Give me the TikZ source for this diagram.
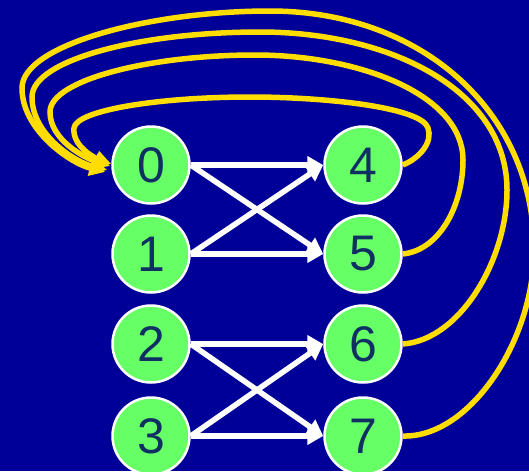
\documentclass[tikz,border=0pt]{standalone}
\usepackage{fontspec}
\setmainfont{Liberation Sans}
\usetikzlibrary{arrows.meta,calc}
\definecolor{bg}{RGB}{0,0,153}
\definecolor{nodegreen}{RGB}{102,255,102}
\definecolor{curveyellow}{RGB}{255,221,0}
\definecolor{digit}{RGB}{16,48,100}
\begin{document}
\begin{tikzpicture}[x=1pt,y=-1pt,
  vert/.style={circle,draw=white,line width=2.5pt,fill=nodegreen,minimum size=77pt,inner sep=0pt,
    text=digit,font=\fontsize{50}{50}\selectfont},
  wedge/.style={draw=white,line width=5.5pt,-{Triangle[length=16pt,width=17pt]}},
  back/.style={draw=curveyellow,line width=5.5pt,-{Triangle[length=16pt,width=15pt]}}]
\fill[bg] (0,0) rectangle (529,471);
\useasboundingbox (0,0) rectangle (529,471);
\node[vert] (n0) at (151,165) {0};
\node[vert] (n1) at (151,254) {1};
\node[vert] (n2) at (151,344) {2};
\node[vert] (n3) at (151,436) {3};
\node[vert] (n4) at (363,165) {4};
\node[vert] (n5) at (363,254) {5};
\node[vert] (n6) at (363,344) {6};
\node[vert] (n7) at (363,436) {7};
\draw[wedge] (n0.east) -- (n4.west);
\draw[wedge] (n0.east) -- (n5.west);
\draw[wedge] (n1.east) -- (n4.west);
\draw[wedge] (n1.east) -- (n5.west);
\draw[wedge] (n2.east) -- (n6.west);
\draw[wedge] (n2.east) -- (n7.west);
\draw[wedge] (n3.east) -- (n6.west);
\draw[wedge] (n3.east) -- (n7.west);
% 4 -> 0
\draw[back] (n4.east) .. controls (420,158) and (433,142) .. (428,128)
  .. controls (422,108) and (330,97) .. (250,97)
  .. controls (160,97) and (76,110) .. (74,128)
  .. controls (72,146) and (95,158) .. ($(n0.west)+(0,-1)$);
% 5 -> 0
\draw[back] (n5.east) .. controls (440,250) and (463,205) .. (463,160)
  .. controls (463,95) and (360,55) .. (255,55)
  .. controls (150,55) and (50,80) .. (50,112)
  .. controls (50,140) and (85,158) .. ($(n0.west)+(-1,1)$);
% 6 -> 0
\draw[back] (n6.east) .. controls (460,340) and (507,260) .. (507,190)
  .. controls (507,90) and (390,32) .. (260,32)
  .. controls (140,32) and (32,60) .. (32,97)
  .. controls (32,135) and (75,162) .. ($(n0.west)+(-4,5)$);
% 7 -> 0
\draw[back] (n7.east) .. controls (470,438) and (534,340) .. (534,250)
  .. controls (534,110) and (420,11) .. (270,11)
  .. controls (150,11) and (22,45) .. (22,88)
  .. controls (22,130) and (70,163) .. ($(n0.west)+(-6,7)$);
\end{tikzpicture}
\end{document}
